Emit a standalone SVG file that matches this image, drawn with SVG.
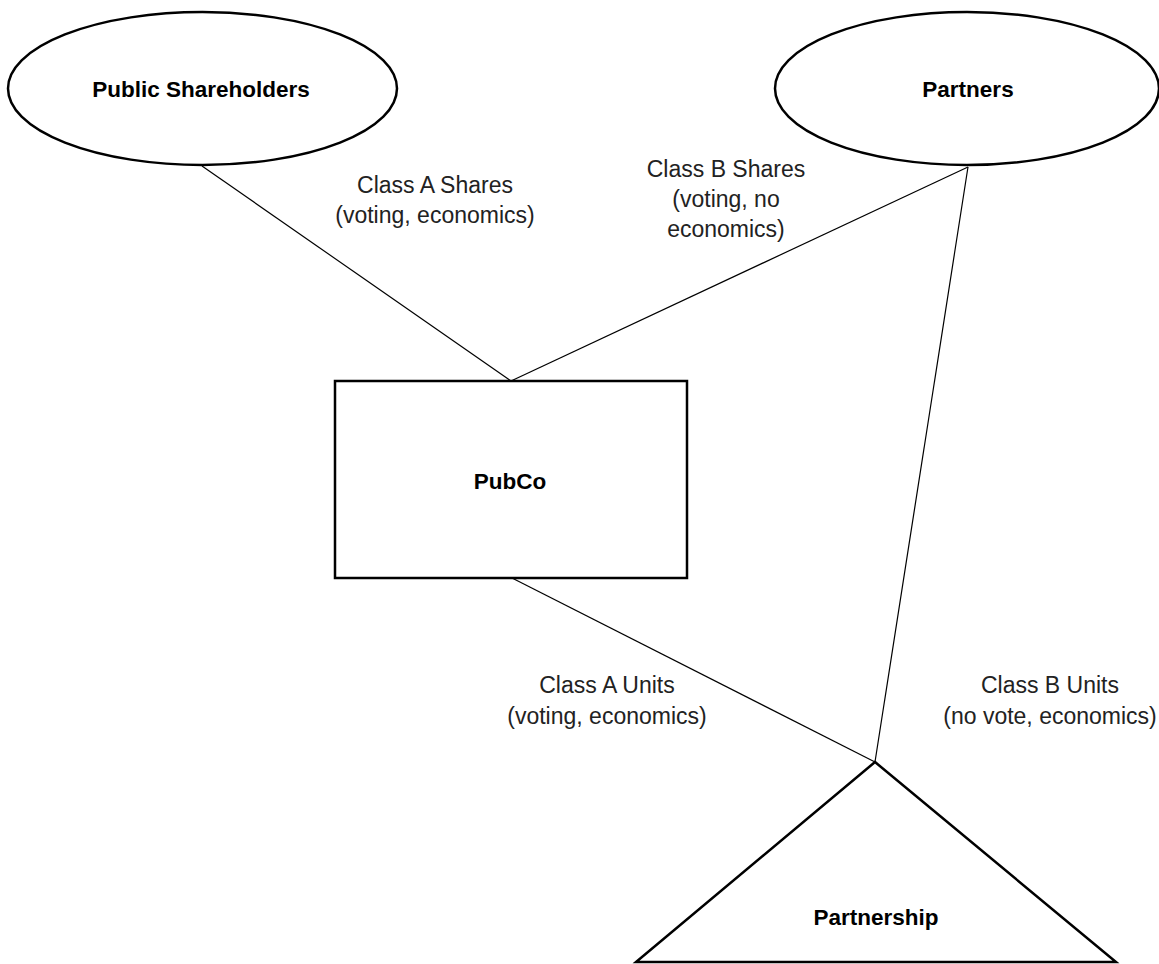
<svg xmlns="http://www.w3.org/2000/svg" width="1159" height="964" viewBox="0 0 1159 964">
<style>
.shape{fill:#fff;stroke:#000;stroke-width:2.5}
.conn{stroke:#000;stroke-width:1.2;fill:none}
.bold{font-family:"Liberation Sans",Arial,sans-serif;font-weight:bold;font-size:22.5px;fill:#000;text-anchor:middle}
.lbl{font-family:"Liberation Sans",Arial,sans-serif;font-size:23px;fill:#222;text-anchor:middle}
</style>
<rect width="1159" height="964" fill="#fff"/>
<g id="connectors">
<line class="conn" x1="202" y1="166" x2="511" y2="381"/>
<line class="conn" x1="511" y1="381" x2="968" y2="167"/>
<line class="conn" x1="968" y1="167" x2="875" y2="762"/>
<line class="conn" x1="512" y1="578" x2="875" y2="762"/>
</g>
<g id="public-shareholders">
<ellipse class="shape" cx="202.5" cy="88.5" rx="194.5" ry="76.5"/>
<text class="bold" x="201" y="97">Public Shareholders</text>
</g>
<g id="partners">
<ellipse class="shape" cx="967" cy="88.5" rx="192" ry="76.5"/>
<text class="bold" x="968" y="97">Partners</text>
</g>
<g id="pubco">
<rect class="shape" x="335" y="381" width="352" height="197"/>
<text class="bold" x="510" y="489">PubCo</text>
</g>
<g id="partnership">
<polygon class="shape" points="875,762 636,962 1116,962"/>
<text class="bold" x="876" y="925">Partnership</text>
</g>
<g id="labels">
<text class="lbl" x="435" y="193">Class A Shares</text>
<text class="lbl" x="435" y="223">(voting, economics)</text>
<text class="lbl" x="726" y="177">Class B Shares</text>
<text class="lbl" x="726" y="207">(voting, no</text>
<text class="lbl" x="726" y="237">economics)</text>
<text class="lbl" x="607" y="693">Class A Units</text>
<text class="lbl" x="607" y="724">(voting, economics)</text>
<text class="lbl" x="1050" y="693">Class B Units</text>
<text class="lbl" x="1050" y="724">(no vote, economics)</text>
</g>
</svg>
